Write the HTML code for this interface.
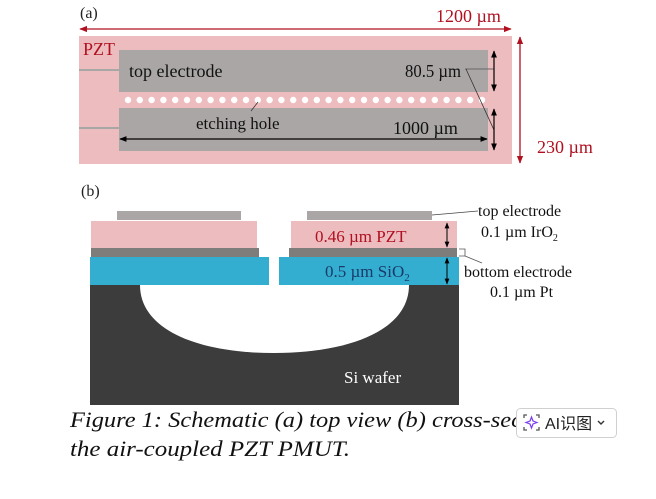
<!DOCTYPE html>
<html><head><meta charset="utf-8"><style>
html,body{margin:0;padding:0;background:#fff;}
svg{display:block;}
.s{font-family:"Liberation Serif",serif;}
</style></head><body>
<svg width="656" height="499" viewBox="0 0 656 499" xmlns="http://www.w3.org/2000/svg">
<defs>
<marker id="ar" viewBox="0 0 10 10" refX="9" refY="5" markerWidth="6" markerHeight="6" orient="auto-start-reverse"><path d="M0,1 L10,5 L0,9 z" fill="#000"/></marker>
<marker id="rr" viewBox="0 0 10 10" refX="9" refY="5" markerWidth="6" markerHeight="6" orient="auto-start-reverse"><path d="M0,1 L10,5 L0,9 z" fill="#b01020"/></marker>
</defs>
<g class="s">
<text x="80" y="18" font-size="16" fill="#222">(a)</text>
<text x="436" y="22" font-size="18" fill="#b01020">1200 µm</text>
<line x1="80" y1="29" x2="511" y2="29" stroke="#b01020" stroke-width="1.3" marker-start="url(#rr)" marker-end="url(#rr)"/>
<rect x="79" y="36" width="433" height="128" fill="#edbcbe"/>
<line x1="520" y1="37" x2="520" y2="163" stroke="#b01020" stroke-width="1.3" marker-start="url(#rr)" marker-end="url(#rr)"/>
<text x="537" y="153" font-size="18" fill="#b01020">230 µm</text>
<text x="83" y="55" font-size="18" fill="#b01020">PZT</text>
<line x1="79" y1="70" x2="119" y2="70" stroke="#a9a6a6" stroke-width="2"/>
<line x1="79" y1="128" x2="119" y2="128" stroke="#a9a6a6" stroke-width="2"/>
<rect x="119" y="50" width="369" height="42" fill="#aaa6a6"/>
<rect x="119" y="108" width="369" height="43" fill="#aaa6a6"/>
<g fill="#fff">
<circle cx="128" cy="100" r="3.2"/><circle cx="139.8" cy="100" r="3.2"/><circle cx="151.6" cy="100" r="3.2"/><circle cx="163.4" cy="100" r="3.2"/><circle cx="175.2" cy="100" r="3.2"/><circle cx="187" cy="100" r="3.2"/><circle cx="198.8" cy="100" r="3.2"/><circle cx="210.6" cy="100" r="3.2"/><circle cx="222.4" cy="100" r="3.2"/><circle cx="234.2" cy="100" r="3.2"/><circle cx="246" cy="100" r="3.2"/><circle cx="257.8" cy="100" r="3.2"/><circle cx="269.6" cy="100" r="3.2"/><circle cx="281.4" cy="100" r="3.2"/><circle cx="293.2" cy="100" r="3.2"/><circle cx="305" cy="100" r="3.2"/><circle cx="316.8" cy="100" r="3.2"/><circle cx="328.6" cy="100" r="3.2"/><circle cx="340.4" cy="100" r="3.2"/><circle cx="352.2" cy="100" r="3.2"/><circle cx="364" cy="100" r="3.2"/><circle cx="375.8" cy="100" r="3.2"/><circle cx="387.6" cy="100" r="3.2"/><circle cx="399.4" cy="100" r="3.2"/><circle cx="411.2" cy="100" r="3.2"/><circle cx="423" cy="100" r="3.2"/><circle cx="434.8" cy="100" r="3.2"/><circle cx="446.6" cy="100" r="3.2"/><circle cx="458.4" cy="100" r="3.2"/><circle cx="470.2" cy="100" r="3.2"/><circle cx="482" cy="100" r="3.2"/>
</g>
<text x="129" y="77" font-size="18" fill="#111">top electrode</text>
<text x="405" y="77" font-size="18" fill="#111" textLength="56" lengthAdjust="spacingAndGlyphs">80.5 µm</text>
<line x1="465" y1="69" x2="494" y2="69" stroke="#666" stroke-width="1"/>
<line x1="466" y1="69" x2="494" y2="130" stroke="#333" stroke-width="0.8"/>
<line x1="494" y1="51" x2="494" y2="91" stroke="#000" stroke-width="1.2" marker-start="url(#ar)" marker-end="url(#ar)"/>
<line x1="494" y1="109" x2="494" y2="150" stroke="#000" stroke-width="1.2" marker-start="url(#ar)" marker-end="url(#ar)"/>
<text x="196" y="129" font-size="17" fill="#111">etching hole</text>
<line x1="251" y1="111" x2="258" y2="102" stroke="#333" stroke-width="0.8"/>
<text x="393" y="134" font-size="18" fill="#111">1000 µm</text>
<line x1="120" y1="139" x2="487" y2="139" stroke="#000" stroke-width="1.2" marker-start="url(#ar)" marker-end="url(#ar)"/>

<text x="81" y="196" font-size="16" fill="#222">(b)</text>
<rect x="117" y="211" width="124" height="9" fill="#aaa6a6"/>
<rect x="307" y="211" width="125" height="9" fill="#aaa6a6"/>
<rect x="91" y="221" width="166" height="27" fill="#edbcbe"/>
<rect x="291" y="221" width="166" height="27" fill="#edbcbe"/>
<rect x="91" y="248" width="168" height="9" fill="#7f7c7c"/>
<rect x="289" y="248" width="168" height="9" fill="#7f7c7c"/>
<rect x="90" y="257" width="179" height="28" fill="#33aed0"/>
<rect x="279" y="257" width="180" height="28" fill="#33aed0"/>
<rect x="90" y="285" width="369" height="120" fill="#3c3c3c"/>
<path d="M140,285 L409,285 C409,330 350,353 274,353 C198,353 140,330 140,285 Z" fill="#fff"/>
<text x="315" y="242" font-size="17" fill="#b01020">0.46 µm  PZT</text>
<text x="325" y="277" font-size="17" fill="#1a3a6a">0.5 µm  SiO<tspan font-size="11" dy="4">2</tspan></text>
<line x1="447" y1="223" x2="447" y2="247" stroke="#000" stroke-width="1" marker-start="url(#ar)" marker-end="url(#ar)"/>
<line x1="447" y1="258" x2="447" y2="284" stroke="#000" stroke-width="1" marker-start="url(#ar)" marker-end="url(#ar)"/>
<text x="344" y="383" font-size="17" fill="#fff">Si wafer</text>
<line x1="432" y1="215" x2="478" y2="211" stroke="#444" stroke-width="0.8"/>
<text x="478" y="216" font-size="16" fill="#111">top electrode</text>
<text x="481" y="237" font-size="16" fill="#111">0.1 µm IrO<tspan font-size="10" dy="4">2</tspan></text>
<path d="M459,249 h6 v7 h-6" fill="none" stroke="#555" stroke-width="0.8"/>
<line x1="465" y1="256" x2="482" y2="263" stroke="#555" stroke-width="0.8"/>
<text x="464" y="277" font-size="16" fill="#111">bottom electrode</text>
<text x="490" y="297" font-size="16" fill="#111">0.1 µm Pt</text>

<text x="70" y="427" font-size="22" font-style="italic" fill="#111" textLength="490" lengthAdjust="spacingAndGlyphs">Figure 1: Schematic (a) top view (b) cross-section</text>
<text x="70" y="456" font-size="22" font-style="italic" fill="#111" textLength="280" lengthAdjust="spacingAndGlyphs">the air-coupled PZT PMUT.</text>
</g>
<rect x="516.5" y="408.5" width="100" height="29" rx="4" fill="#fff" stroke="#d0d0d0"/>
<path d="M524,418 v-3 h3 M536,415 h3 v3 M539,427 v3 h-3 M527,430 h-3 v-3" fill="none" stroke="#555" stroke-width="1.3"/>
<path d="M531.5,417 L533,421 L537,422.5 L533,424 L531.5,428 L530,424 L526,422.5 L530,421 Z" fill="none" stroke="#7a3df0" stroke-width="1.2"/>
<text x="545" y="429" font-family="Liberation Sans,'Noto Sans CJK SC',sans-serif" font-size="16" fill="#222">AI识图</text>
<path d="M598,421 l3,3 l3,-3" fill="none" stroke="#333" stroke-width="1.4"/>
</svg>
</body></html>
